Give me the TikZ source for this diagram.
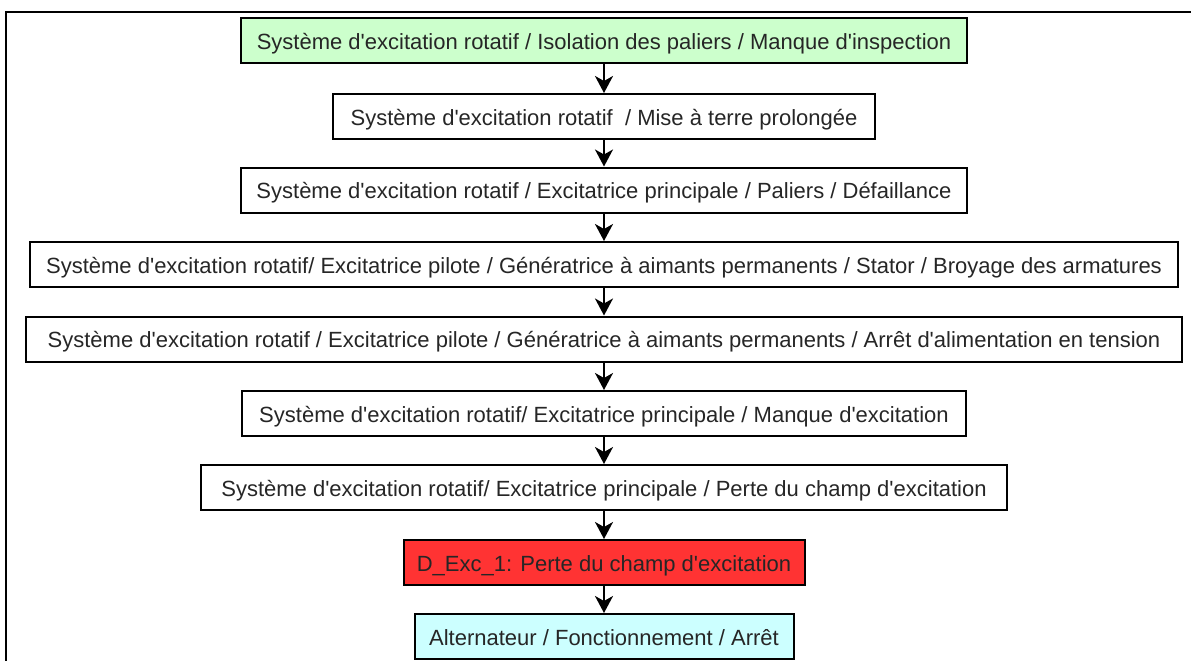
\documentclass[tikz,border=0pt]{standalone}
\usepackage{fontspec}
\setmainfont{Liberation Sans}
\usetikzlibrary{arrows.meta}
\definecolor{boxgreen}{HTML}{CCFFCC}
\definecolor{boxred}{HTML}{FF3333}
\definecolor{boxcyan}{HTML}{CCFFFF}
\newcommand{\aq}{\textquotesingle}
\tikzset{
  stepbox/.style={draw=black, line width=2pt, fill=white, inner sep=0pt,
    text height=19pt, text depth=2pt,
    font=\fontsize{22}{26}\selectfont, text=black!85},
  arr/.style={line width=2pt, -{Stealth[length=17pt,width=18pt,inset=5pt]}},
  frame/.style={line width=2.4pt, draw=black}
}
\begin{document}
\begin{tikzpicture}[x=1pt,y=-1pt]
\useasboundingbox (0,0) rectangle (1191,661);
\draw[frame] (6,661) -- (6,12) -- (1191,12);
\node[stepbox, fill=boxgreen, minimum width=726pt, minimum height=45pt] (b1) at (604,40.5)
  {Système d\aq excitation rotatif / Isolation des paliers / Manque d\aq inspection};
\node[stepbox, minimum width=542pt, minimum height=45pt] (b2) at (604,116.5)
  {Système d\aq excitation rotatif\ \ / Mise à terre prolongée};
\node[stepbox, minimum width=726pt, minimum height=45pt] (b3) at (604,190)
  {Système d\aq excitation rotatif / Excitatrice principale / Paliers / Défaillance};
\node[stepbox, minimum width=1148pt, minimum height=45pt] (b4) at (604,264.5)
  {Système d\aq excitation rotatif/ Excitatrice pilote / Génératrice à aimants permanents / Stator / Broyage des armatures};
\node[stepbox, minimum width=1156pt, minimum height=45pt] (b5) at (604,339)
  {Système d\aq excitation rotatif / Excitatrice pilote / Génératrice à aimants permanents / Arrêt d\aq alimentation en tension};
\node[stepbox, minimum width=724pt, minimum height=45pt] (b6) at (604,413.5)
  {Système d\aq excitation rotatif/ Excitatrice principale / Manque d\aq excitation};
\node[stepbox, minimum width=806pt, minimum height=45pt] (b7) at (604,487.5)
  {Système d\aq excitation rotatif/ Excitatrice principale / Perte du champ d\aq excitation};
\node[stepbox, fill=boxred, minimum width=401pt, minimum height=45pt] (b8) at (604,562.5)
  {D\_Exc\_1: Perte du champ d\aq excitation};
\node[stepbox, fill=boxcyan, minimum width=379pt, minimum height=45pt] (b9) at (604,636.5)
  {Alternateur / Fonctionnement / Arrêt};
\draw[arr] (b1.south) -- (b2.north);
\draw[arr] (b2.south) -- (b3.north);
\draw[arr] (b3.south) -- (b4.north);
\draw[arr] (b4.south) -- (b5.north);
\draw[arr] (b5.south) -- (b6.north);
\draw[arr] (b6.south) -- (b7.north);
\draw[arr] (b7.south) -- (b8.north);
\draw[arr] (b8.south) -- (b9.north);
\end{tikzpicture}
\end{document}
